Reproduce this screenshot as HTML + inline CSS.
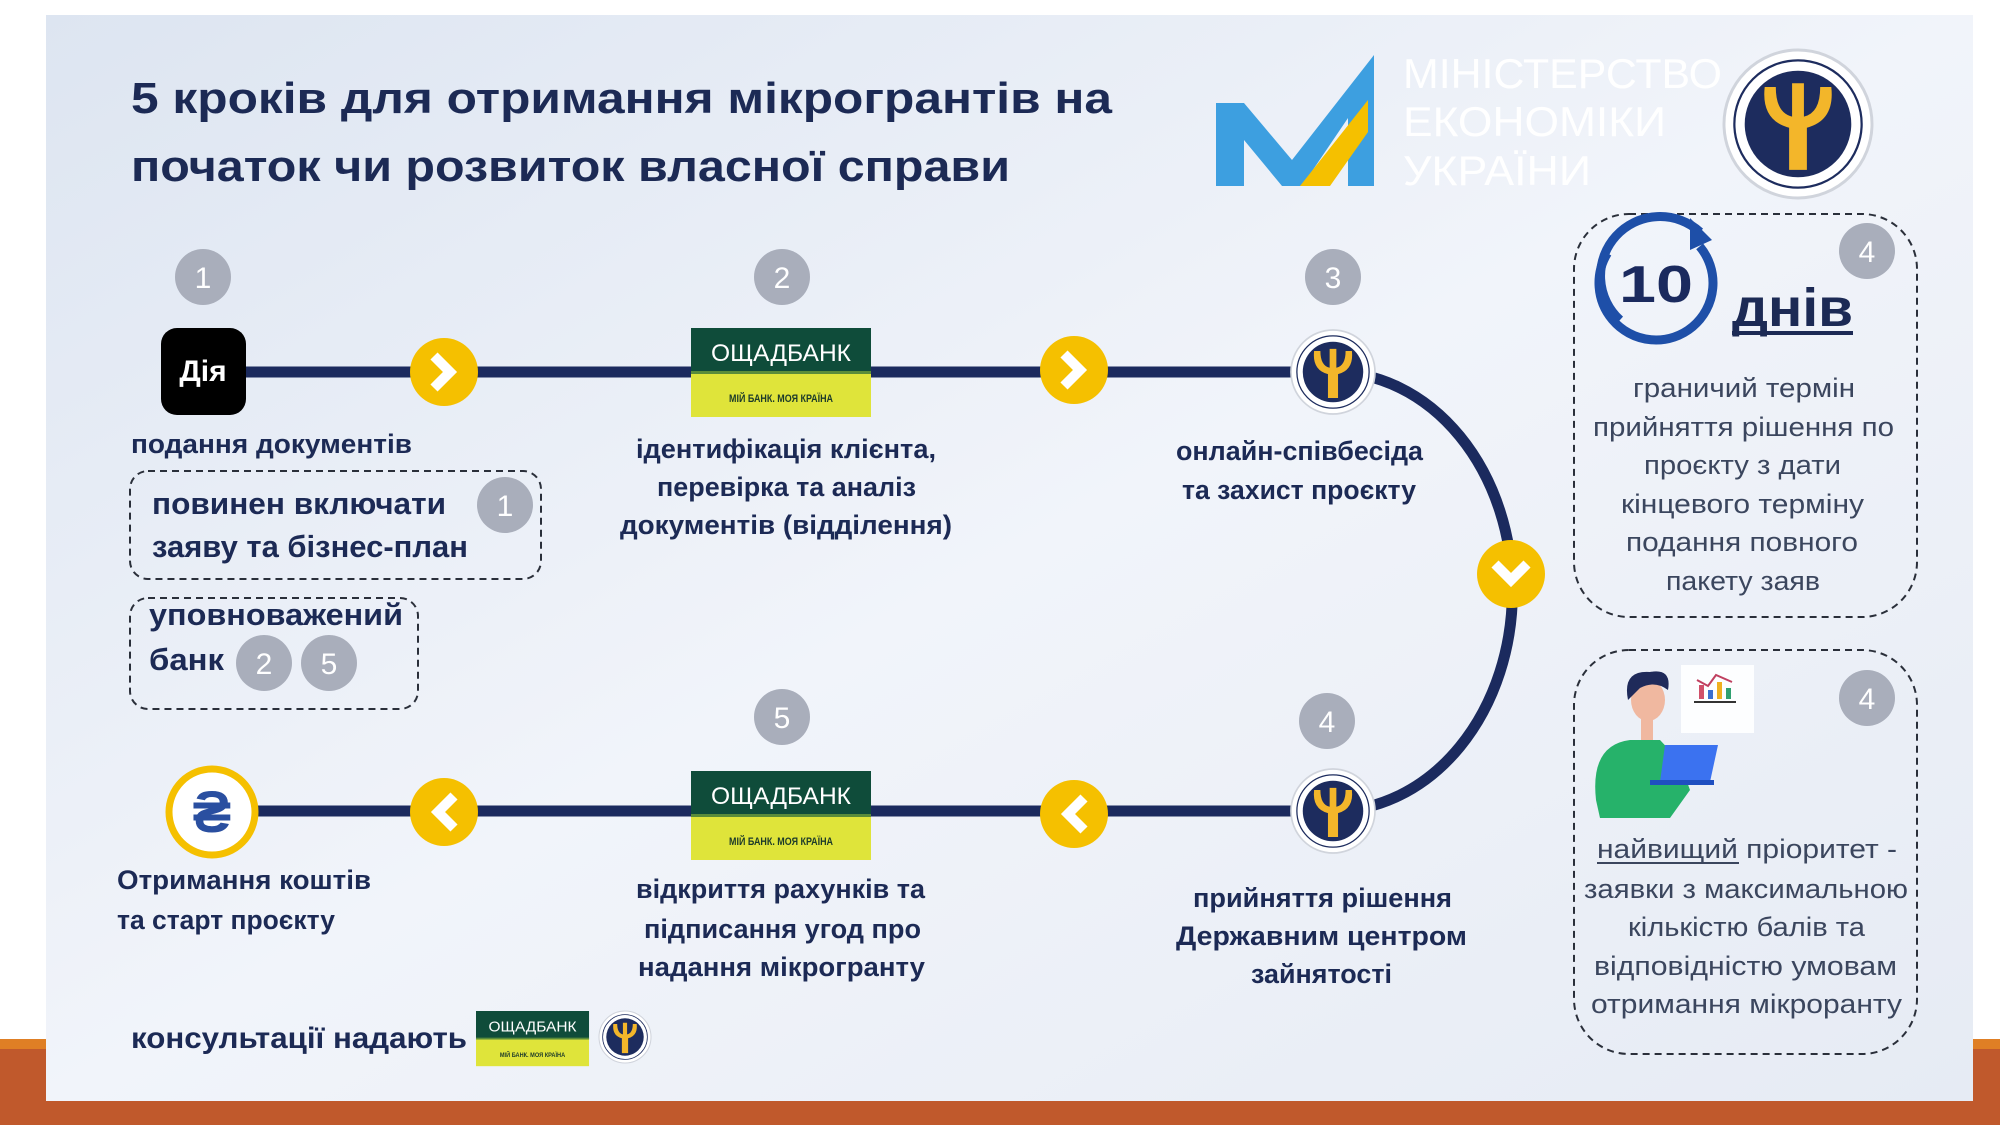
<!DOCTYPE html>
<html><head><meta charset="utf-8">
<style>
html,body{margin:0;padding:0;background:#fff;}
svg{display:block;}
text{font-family:"Liberation Sans","DejaVu Sans",sans-serif;}
.b{font-weight:bold;fill:#1c2a55;}
.g{fill:#3b465e;}
</style></head>
<body>
<svg width="2000" height="1125" viewBox="0 0 2000 1125" xmlns="http://www.w3.org/2000/svg">
<defs>
<linearGradient id="bg" x1="0" y1="0" x2="1" y2="1">
<stop offset="0" stop-color="#dde5f1"/>
<stop offset="0.5" stop-color="#f1f4fa"/>
<stop offset="1" stop-color="#e6ebf4"/>
</linearGradient>
<g id="seal">
<circle r="1" fill="#fff" stroke="#d0d4dc" stroke-width="0.04"/>
<circle r="0.72" fill="#1d2c5e"/>
<circle r="0.86" fill="none" stroke="#1d2c5e" stroke-width="0.03"/>
<path d="M-0.12,0.62 L-0.12,0.05 Q-0.5,-0.05 -0.45,-0.5 L-0.3,-0.5 Q-0.3,-0.15 -0.08,-0.1 L-0.08,-0.55 L0.08,-0.55 L0.08,-0.1 Q0.3,-0.15 0.3,-0.5 L0.45,-0.5 Q0.5,-0.05 0.12,0.05 L0.12,0.62 Z" fill="#f3b62a"/>
</g>
<g id="arrR">
<circle r="34" fill="#f5c000"/>
<path d="M-10,-16 L6,0 L-10,16" fill="none" stroke="#fff" stroke-width="10" stroke-linejoin="miter"/>
</g>
<g id="oshad">
<rect x="0" y="0" width="180" height="45" fill="#0f4c3a"/>
<rect x="0" y="45" width="180" height="44" fill="#dfe43a"/>
<rect x="0" y="43" width="180" height="3" fill="#5a8c3a"/>
<text x="90" y="33" text-anchor="middle" font-family="Liberation Serif,serif" font-size="24" fill="#fff" textLength="140" lengthAdjust="spacingAndGlyphs">ОЩАДБАНК</text>
<text x="90" y="74" text-anchor="middle" font-size="11" font-weight="bold" fill="#1c3a2a" textLength="104" lengthAdjust="spacingAndGlyphs">МІЙ БАНК. МОЯ КРАЇНА</text>
</g>
</defs>

<rect x="0" y="0" width="2000" height="1125" fill="#fff"/>
<rect x="0" y="1039" width="2000" height="86" fill="#c0592c"/>
<rect x="0" y="1039" width="2000" height="10" fill="#df7f25"/>
<rect x="46" y="15" width="1927" height="1086" fill="url(#bg)"/>

<!-- title -->
<text class="b" x="131" y="113" font-size="44" textLength="981" lengthAdjust="spacingAndGlyphs">5 кроків для отримання мікрогрантів на</text>
<text class="b" x="131" y="181" font-size="44" textLength="879" lengthAdjust="spacingAndGlyphs">початок чи розвиток власної справи</text>

<!-- ministry logo -->
<polygon points="1216,103 1244,103 1292,160 1374,55 1374,186 1348,186 1348,118 1302,186 1282,186 1244,140 1244,186 1216,186" fill="#3d9fe0"/>
<polygon points="1300,186 1368,100 1368,132 1330,186" fill="#f5c000"/>
<text x="1403" y="88" font-size="42" fill="#fff" textLength="319" lengthAdjust="spacingAndGlyphs">МІНІСТЕРСТВО</text>
<text x="1403" y="136" font-size="42" fill="#fff" textLength="263" lengthAdjust="spacingAndGlyphs">ЕКОНОМІКИ</text>
<text x="1403" y="185" font-size="42" fill="#fff" textLength="188" lengthAdjust="spacingAndGlyphs">УКРАЇНИ</text>
<use href="#seal" transform="translate(1798,124) scale(74)"/>

<!-- path lines -->
<path d="M204,372 L1333,372 A179,219 0 0 1 1333,811 L210,811" fill="none" stroke="#1b2a5e" stroke-width="11"/>

<!-- arrows -->
<use href="#arrR" x="444" y="372"/>
<use href="#arrR" x="1074" y="370"/>
<use href="#arrR" transform="translate(1511,574) rotate(90)"/>
<use href="#arrR" transform="translate(444,812) rotate(180)"/>
<use href="#arrR" transform="translate(1074,814) rotate(180)"/>

<!-- step nodes -->
<rect x="161" y="328" width="85" height="87" rx="16" fill="#000"/>
<text x="203" y="381" text-anchor="middle" font-size="30" fill="#fff" font-weight="bold">Дія</text>
<use href="#oshad" x="691" y="328"/>
<use href="#oshad" x="691" y="771"/>
<use href="#seal" transform="translate(1333,372) scale(42)"/>
<use href="#seal" transform="translate(1333,811) scale(42)"/>
<circle cx="212" cy="812" r="43" fill="#fff" stroke="#f5c000" stroke-width="7"/>
<text x="212" y="832" text-anchor="middle" font-size="58" fill="#2a4fa0" font-weight="bold">₴</text>

<!-- numbers -->
<g font-size="30" fill="#fff" text-anchor="middle">
<circle cx="203" cy="277" r="28" fill="#a9aebb"/><text x="203" y="288">1</text>
<circle cx="782" cy="277" r="28" fill="#a9aebb"/><text x="782" y="288">2</text>
<circle cx="1333" cy="277" r="28" fill="#a9aebb"/><text x="1333" y="288">3</text>
<circle cx="782" cy="717" r="28" fill="#a9aebb"/><text x="782" y="728">5</text>
<circle cx="1327" cy="721" r="28" fill="#a9aebb"/><text x="1327" y="732">4</text>
<circle cx="1867" cy="251" r="28" fill="#a9aebb"/><text x="1867" y="262">4</text>
<circle cx="1867" cy="698" r="28" fill="#a9aebb"/><text x="1867" y="709">4</text>
<circle cx="505" cy="505" r="28" fill="#a9aebb"/><text x="505" y="516">1</text>
<circle cx="264" cy="663" r="28" fill="#a9aebb"/><text x="264" y="674">2</text>
<circle cx="329" cy="663" r="28" fill="#a9aebb"/><text x="329" y="674">5</text>
</g>

<!-- dashed boxes -->
<g fill="none" stroke="#2a2f3a" stroke-width="2" stroke-dasharray="7,5">
<rect x="130" y="471" width="411" height="108" rx="18"/>
<rect x="130" y="598" width="288" height="111" rx="18"/>
<rect x="1574" y="214" width="343" height="403" rx="55"/>
<rect x="1574" y="650" width="343" height="404" rx="55"/>
</g>

<!-- labels -->
<g class="b" font-size="27">
<text x="131" y="453" textLength="281" lengthAdjust="spacingAndGlyphs">подання документів</text>
<text x="152" y="514" font-size="31" textLength="294" lengthAdjust="spacingAndGlyphs">повинен включати</text>
<text x="152" y="557" font-size="31" textLength="316" lengthAdjust="spacingAndGlyphs">заяву та бізнес-план</text>
<text x="149" y="625" font-size="31" textLength="254" lengthAdjust="spacingAndGlyphs">уповноважений</text>
<text x="149" y="670" font-size="31" textLength="75" lengthAdjust="spacingAndGlyphs">банк</text>

<text x="636" y="458" textLength="300" lengthAdjust="spacingAndGlyphs">ідентифікація клієнта,</text>
<text x="657" y="496" textLength="259" lengthAdjust="spacingAndGlyphs">перевірка та аналіз</text>
<text x="620" y="534" textLength="332" lengthAdjust="spacingAndGlyphs">документів (відділення)</text>

<text x="1176" y="460" textLength="247" lengthAdjust="spacingAndGlyphs">онлайн-співбесіда</text>
<text x="1182" y="499" textLength="234" lengthAdjust="spacingAndGlyphs">та захист проєкту</text>

<text x="117" y="889" textLength="254" lengthAdjust="spacingAndGlyphs">Отримання коштів</text>
<text x="117" y="929" textLength="218" lengthAdjust="spacingAndGlyphs">та старт проєкту</text>

<text x="636" y="898" textLength="289" lengthAdjust="spacingAndGlyphs">відкриття рахунків та</text>
<text x="644" y="938" textLength="277" lengthAdjust="spacingAndGlyphs">підписання угод про</text>
<text x="638" y="976" textLength="287" lengthAdjust="spacingAndGlyphs">надання мікрогранту</text>

<text x="1193" y="907" textLength="259" lengthAdjust="spacingAndGlyphs">прийняття рішення</text>
<text x="1176" y="945" textLength="291" lengthAdjust="spacingAndGlyphs">Державним центром</text>
<text x="1251" y="983" textLength="141" lengthAdjust="spacingAndGlyphs">зайнятості</text>

<text x="131" y="1048" font-size="30" textLength="336" lengthAdjust="spacingAndGlyphs">консультації надають</text>
</g>
<use href="#oshad" transform="translate(476,1011) scale(0.628,0.62)"/>
<use href="#seal" transform="translate(625,1037) scale(26)"/>

<!-- right box 1 -->
<path d="M1620,320 A52,52 0 1 1 1700,232" fill="none" stroke="#1e4fa8" stroke-width="9"/>
<polygon points="1690,218 1712,240 1690,250" fill="#1e4fa8"/>
<circle cx="1656" cy="283" r="57" fill="none" stroke="#1e4fa8" stroke-width="9" stroke-dasharray="250,110" transform="rotate(-40 1656 283)"/>
<text x="1656" y="302" text-anchor="middle" font-size="52" font-weight="bold" fill="#1b2a5e" textLength="74" lengthAdjust="spacingAndGlyphs">10</text>
<text class="b" x="1732" y="326" font-size="54" textLength="121" lengthAdjust="spacingAndGlyphs">днів</text>
<rect x="1732" y="331" width="121" height="4" fill="#1c2a55"/>
<g class="g" font-size="27">
<text x="1633" y="397" textLength="222" lengthAdjust="spacingAndGlyphs">граничий термін</text>
<text x="1593" y="436" textLength="301" lengthAdjust="spacingAndGlyphs">прийняття рішення по</text>
<text x="1644" y="474" textLength="197" lengthAdjust="spacingAndGlyphs">проєкту з дати</text>
<text x="1621" y="513" textLength="243" lengthAdjust="spacingAndGlyphs">кінцевого терміну</text>
<text x="1626" y="551" textLength="232" lengthAdjust="spacingAndGlyphs">подання повного</text>
<text x="1666" y="590" textLength="154" lengthAdjust="spacingAndGlyphs">пакету заяв</text>
</g>

<!-- right box 2 illustration -->
<rect x="1681" y="665" width="73" height="68" fill="#fff" opacity="0.9"/>
<rect x="1699" y="685" width="5" height="14" fill="#d0506a"/>
<rect x="1708" y="690" width="5" height="9" fill="#3b6fd0"/>
<rect x="1717" y="682" width="5" height="17" fill="#f0b020"/>
<rect x="1726" y="688" width="5" height="11" fill="#30a070"/>
<polyline points="1697,680 1708,686 1716,675 1732,682" fill="none" stroke="#c04060" stroke-width="2"/>
<rect x="1694" y="701" width="42" height="2" fill="#333"/>
<path d="M1596,800 Q1590,745 1630,740 L1660,740 Q1680,760 1690,790 L1670,818 L1600,818 Z" fill="#26b26a"/>
<ellipse cx="1648" cy="700" rx="17" ry="21" fill="#f0b8a0"/>
<path d="M1628,700 Q1622,670 1650,672 Q1672,668 1668,690 Q1655,680 1640,688 Z" fill="#1f2a5a"/>
<rect x="1641" y="718" width="12" height="22" fill="#f0b8a0"/>
<polygon points="1665,745 1718,745 1710,782 1660,782" fill="#3b72f0"/>
<rect x="1650" y="780" width="64" height="5" fill="#1f4fc0"/>
<g class="g" font-size="27">
<text x="1597" y="858" textLength="300" lengthAdjust="spacingAndGlyphs">найвищий пріоритет -</text>
<text x="1584" y="898" textLength="324" lengthAdjust="spacingAndGlyphs">заявки з максимальною</text>
<text x="1628" y="936" textLength="237" lengthAdjust="spacingAndGlyphs">кількістю балів та</text>
<text x="1594" y="975" textLength="303" lengthAdjust="spacingAndGlyphs">відповідністю умовам</text>
<text x="1591" y="1013" textLength="311" lengthAdjust="spacingAndGlyphs">отримання мікроранту</text>
</g>
<rect x="1597" y="862" width="142" height="2" fill="#3b465e"/>
</svg>
</body></html>
